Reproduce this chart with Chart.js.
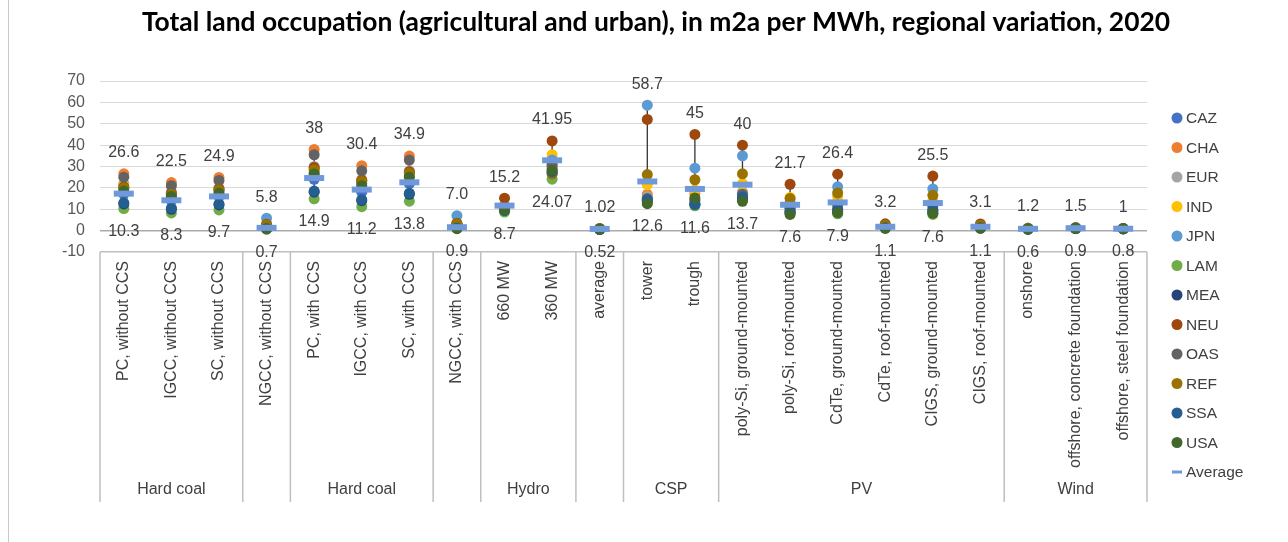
<!DOCTYPE html>
<html>
<head>
<meta charset="utf-8">
<script src="https://cdn.jsdelivr.net/npm/chart.js@4.4.1/dist/chart.umd.min.js"></script>
<style>
  html, body { margin: 0; padding: 0; background: #fff; }
  #wrap { position: relative; width: 1288px; height: 542px; }
  #edge { position: absolute; left: 8px; top: 0; width: 1px; height: 542px; background: #c8c8c8; }
</style>
</head>
<body>
<div id="wrap">
  <canvas id="landChart" width="1288" height="542"></canvas>
  <div id="edge"></div>
</div>
<script>
const categories = [
  'PC, without CCS', 'IGCC, without CCS', 'SC, without CCS', 'NGCC, without CCS',
  'PC, with CCS', 'IGCC, with CCS', 'SC, with CCS', 'NGCC, with CCS',
  '660 MW', '360 MW', 'average', 'tower', 'trough',
  'poly-Si, ground-mounted', 'poly-Si, roof-mounted', 'CdTe, ground-mounted',
  'CdTe, roof-mounted', 'CIGS, ground-mounted', 'CIGS, roof-mounted',
  'onshore', 'offshore, concrete foundation', 'offshore, steel foundation'
];
const groupNames = ['Hard coal', '', 'Hard coal', '', 'Hydro', '', 'CSP', 'PV', 'Wind'];
const groupSizes = [3, 1, 3, 1, 2, 1, 2, 6, 3];

const regions = ['CAZ', 'CHA', 'EUR', 'IND', 'JPN', 'LAM', 'MEA', 'NEU', 'OAS', 'REF', 'SSA', 'USA'];
const regionColors = ['#4472C4', '#ED7D31', '#A5A5A5', '#FFC000', '#5B9BD5', '#70AD47',
                      '#264478', '#9E480E', '#636363', '#997300', '#255E91', '#43682B'];

// m2a per MWh, one value per technology
const CAZ = [17, 14, 16, 1.5, 24, 18, 22, 1.8, 10, 29, 0.8, 14.5, 12.5, 15, 9, 10, 1.3, 9.5, 1.3, 0.8, 1.1, 0.9];
const CHA = [26.6, 22.5, 24.9, 2.5, 38, 30.4, 34.9, 3, 11, 30, 0.9, 17, 17.3, 18, 11, 13, 1.8, 12.5, 1.7, 1.0, 1.3, 0.95];
const EUR = [22, 18, 20, 2, 30, 24, 28, 2.5, 10.5, 30.5, 0.7, 16, 14.5, 17.6, 10.5, 12.5, 1.6, 12, 1.6, 0.9, 1.2, 0.9];
const IND = [21, 17.5, 19.5, 2.5, 29, 23.5, 27, 3, 12, 35.5, 1.0, 21.5, 19, 22, 15.5, 16, 2.2, 14, 2.1, 1.1, 1.4, 1.0];
const JPN = [20, 16.5, 18.5, 5.8, 27, 22, 25.5, 7.0, 11.5, 33, 1.02, 58.7, 29.2, 35, 13, 20.5, 2.4, 19.5, 2.3, 1.2, 1.5, 1.0];
const LAM = [10.3, 8.3, 9.7, 1.5, 14.9, 11.2, 13.8, 1.8, 8.7, 24.07, 0.6, 13, 11.6, 14.2, 8, 7.9, 1.1, 7.6, 1.1, 0.6, 0.9, 0.8];
const MEA = [12.5, 10, 12, 1, 18, 14, 17, 1.2, 9.5, 27, 0.52, 14, 12.5, 15, 8.5, 9, 1.2, 8.5, 1.2, 0.7, 1.0, 0.85];
const NEU = [20.5, 17.5, 19.5, 3, 29.5, 23.5, 27.5, 3.5, 15.2, 41.95, 0.9, 52, 45, 40, 21.7, 26.4, 3.2, 25.5, 3.1, 0.9, 1.2, 0.9];
const OAS = [25, 21, 23.5, 2.5, 35.5, 28, 33, 3, 10.5, 30.8, 0.8, 15, 14, 17, 10.5, 12, 1.6, 11.5, 1.6, 0.9, 1.2, 0.9];
const REF = [20, 17, 19, 2.8, 28.5, 23, 27, 3.2, 10, 26.5, 0.85, 26.2, 23.8, 26.6, 15, 17.6, 2.6, 16.5, 2.5, 1.0, 1.3, 0.95];
const SSA = [13, 10.5, 12.5, 1, 18.5, 14.5, 17.5, 1.2, 9.5, 27.5, 0.6, 14.5, 12.2, 15.7, 9, 9.8, 1.3, 9.8, 1.3, 0.7, 1.0, 0.85];
const USA = [18.5, 16, 17.5, 0.7, 26.5, 21, 25, 0.9, 9.8, 28.2, 0.7, 12.6, 15.3, 13.7, 7.6, 8.4, 1.2, 8.1, 1.2, 0.8, 1.1, 0.9];
const average = [17.3, 14.2, 16, 1.3, 24.6, 19.2, 22.6, 1.6, 11.7, 32.9, 0.8, 23, 19.5, 21.5, 12.1, 13.2, 1.8, 12.9, 1.8, 0.85, 1.15, 0.9];

// decimals shown in the max / min labels
const maxDecimals = [1, 1, 1, 1, 0, 1, 1, 1, 1, 2, 2, 1, 0, 0, 1, 1, 1, 1, 1, 1, 1, 0];
const minDecimals = [1, 1, 1, 1, 1, 1, 1, 1, 1, 2, 2, 1, 1, 1, 1, 1, 1, 1, 1, 1, 1, 1];

const yMin = -10, yMax = 70, yStep = 10;

const regionValues = [CAZ, CHA, EUR, IND, JPN, LAM, MEA, NEU, OAS, REF, SSA, USA];
const avgColor = '#7099DC';
const FONT = '"Liberation Sans", Arial, sans-serif';

const highs = categories.map((_, i) => Math.max(...regionValues.map(a => a[i])));
const lows = categories.map((_, i) => Math.min(...regionValues.map(a => a[i])));

const datasets = regions.map((name, i) => ({
  label: name,
  data: regionValues[i],
  showLine: false,
  pointRadius: 5.5,
  pointBackgroundColor: regionColors[i],
  pointBorderColor: regionColors[i],
  pointBorderWidth: 0,
  order: regions.length - i
}));
datasets.push({
  label: 'Average',
  data: average,
  showLine: false,
  pointStyle: 'line',
  pointRadius: 10,
  pointBorderWidth: 6,
  pointBorderColor: avgColor,
  pointBackgroundColor: avgColor,
  order: 0
});

// high-low line, max/min labels, group boxes, title and legend
const decorations = {
  id: 'decorations',
  beforeDatasetsDraw(chart) {
    const { ctx, scales: { x, y } } = chart;
    ctx.save();
    ctx.strokeStyle = '#333333';
    ctx.lineWidth = 1.3;
    categories.forEach((_, i) => {
      const px = x.getPixelForValue(i);
      ctx.beginPath();
      ctx.moveTo(px, y.getPixelForValue(highs[i]));
      ctx.lineTo(px, y.getPixelForValue(lows[i]));
      ctx.stroke();
    });
    ctx.restore();
  },
  afterDatasetsDraw(chart) {
    const { ctx, scales: { x, y } } = chart;
    ctx.save();
    ctx.font = '16px ' + FONT;
    ctx.fillStyle = '#404040';
    ctx.textAlign = 'center';
    ctx.textBaseline = 'middle';
    categories.forEach((_, i) => {
      const px = x.getPixelForValue(i);
      ctx.fillText(highs[i].toFixed(maxDecimals[i]), px, y.getPixelForValue(highs[i]) - 21);
      ctx.fillText(lows[i].toFixed(minDecimals[i]), px, y.getPixelForValue(lows[i]) + 23);
    });
    ctx.restore();
  },
  afterDraw(chart) {
    const { ctx, chartArea, scales: { x } } = chart;
    const top = chartArea.bottom;
    const bottom = 502;
    ctx.save();

    // group boxes under the axis
    ctx.strokeStyle = '#BFBFBF';
    ctx.lineWidth = 1.5;
    ctx.font = '16px ' + FONT;
    ctx.fillStyle = '#404040';
    ctx.textAlign = 'center';
    ctx.textBaseline = 'middle';
    const edge = i => i <= 0 ? chartArea.left
      : i >= categories.length ? chartArea.right
      : (x.getPixelForValue(i - 1) + x.getPixelForValue(i)) / 2;
    let start = 0;
    const edges = [edge(0)];
    groupSizes.forEach((n, g) => {
      const l = edge(start), r = edge(start + n);
      edges.push(r);
      if (groupNames[g]) ctx.fillText(groupNames[g], (l + r) / 2, 490);
      start += n;
    });
    edges.forEach(px => {
      ctx.beginPath();
      ctx.moveTo(px, top);
      ctx.lineTo(px, bottom);
      ctx.stroke();
    });

    // title
    ctx.fillStyle = '#000';
    ctx.font = 'bold 26.4px Lato, "Open Sans", sans-serif';
    ctx.fillText('Total land occupation (agricultural and urban), in m2a per MWh, regional variation, 2020', 656, 22);

    // legend
    ctx.font = '15.5px ' + FONT;
    ctx.textAlign = 'left';
    const names = regions.concat(['Average']);
    names.forEach((name, k) => {
      const ly = 118 + k * 29.5;
      if (k < regions.length) {
        ctx.fillStyle = regionColors[k];
        ctx.beginPath();
        ctx.arc(1177, ly, 5.5, 0, Math.PI * 2);
        ctx.fill();
      } else {
        ctx.fillStyle = avgColor;
        ctx.fillRect(1172, ly - 1.5, 10, 3);
      }
      ctx.fillStyle = '#404040';
      ctx.fillText(name, 1186, ly + 1);
    });
    ctx.restore();
  }
};

new Chart(document.getElementById('landChart'), {
  type: 'line',
  data: { labels: categories, datasets: datasets },
  plugins: [decorations],
  options: {
    responsive: false,
    animation: false,
    devicePixelRatio: 1,
    events: [],
    layout: { padding: { top: 81, right: 141, left: 0, bottom: 0 } },
    plugins: {
      legend: { display: false },
      title: { display: false },
      tooltip: { enabled: false }
    },
    scales: {
      x: {
        offset: true,
        grid: { display: false, drawTicks: false },
        border: { display: false },
        ticks: {
          autoSkip: false,
          minRotation: 90,
          maxRotation: 90,
          padding: 9,
          color: '#404040',
          font: { family: FONT, size: 16 }
        },
        afterFit(scale) { scale.height = 290; }
      },
      y: {
        min: yMin,
        max: yMax,
        grid: {
          drawTicks: false,
          color: c => c.tick.value === 0 ? '#ABABAB' : c.tick.value === yMin ? '#BFBFBF' : '#D9D9D9',
          lineWidth: c => c.tick.value === 0 || c.tick.value === yMin ? 1.5 : 1
        },
        border: { display: false },
        ticks: {
          autoSkip: false,
          stepSize: yStep,
          padding: 15,
          color: '#595959',
          font: { family: FONT, size: 16 }
        },
        afterFit(scale) { scale.width = 100; }
      }
    }
  }
});
</script>
</body>
</html>
